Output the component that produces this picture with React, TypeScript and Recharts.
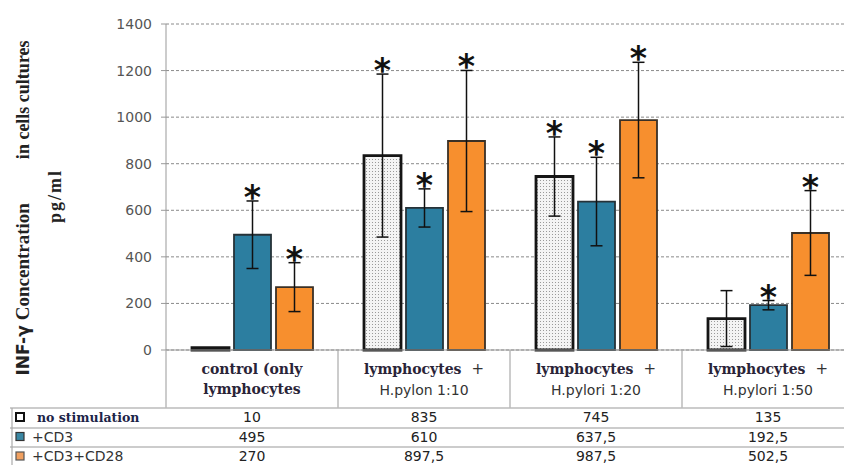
import { ComposedChart, Bar, XAxis, YAxis, CartesianGrid, ErrorBar, LabelList } from 'recharts';

// category labels (two lines each)
const categoryTop = ['control (only', 'lymphocytes', 'lymphocytes', 'lymphocytes'];
const categoryBottom = ['lymphocytes', 'H.pylon 1:10', 'H.pylori 1:20', 'H.pylori 1:50'];
const categoryPlus = [false, true, true, true];

const seriesNames = ['no stimulation', '+CD3', '+CD3+CD28'];

const noStim = [10, 835, 745, 135];
const cd3 = [495, 610, 637.5, 192.5];
const cd28 = [270, 897.5, 987.5, 502.5];

const noStimErr = [0, 350, 170, 120];
const cd3Err = [145, 82, 190, 20];
const cd28Err = [105, 303, 248, 182];

// significance marks
const noStimStar = [false, true, true, false];
const cd3Star = [true, true, true, true];
const cd28Star = [true, true, true, true];

const yTicks = [0, 200, 400, 600, 800, 1000, 1200, 1400];

const data = categoryTop.map((t, i) => ({
  name: `${t} ${categoryBottom[i]}`,
  noStim: noStim[i],
  cd3: cd3[i],
  cd28: cd28[i],
  noStimErr: noStimErr[i],
  cd3Err: cd3Err[i],
  cd28Err: cd28Err[i],
}));

const CD3_COLOR = '#2c7ea0';
const CD28_COLOR = '#f78f2e';
const SERIF = '"DejaVu Serif", serif';
const SANS = '"DejaVu Sans", sans-serif';
const TITLE_SERIF = '"Liberation Serif", serif';

// layout of the plot, shared with the table underneath
const CHART_W = 860;
const PLOT_LEFT = 166;
const PLOT_RIGHT = 854;
const PLOT_TOP = 24;
const PLOT_BOTTOM = 350;
const CAT_W = (PLOT_RIGHT - PLOT_LEFT) / data.length;
const ROWS = [408, 428, 447];

const fmt = (v: number) => String(v).replace('.', ',');

const starLabel = (errs: number[], stars: boolean[]) => (props: any) => {
  const { x, y, width, height, value, index } = props;
  if (!stars[index] || !value) return null;
  const top = Number(y) - errs[index] * (Number(height) / Number(value));
  return (
    <text
      x={Number(x) + Number(width) / 2}
      y={top + 8}
      textAnchor="middle"
      fontSize={33}
      fontWeight="bold"
      fontFamily={SANS}
      fill="#111"
    >
      *
    </text>
  );
};

const CategoryTick = (props: any) => {
  const { x, y, payload } = props;
  const i = data.findIndex((d) => d.name === payload.value);
  if (i < 0) return null;
  const firstSerif = i === 0;
  return (
    <g>
      <text x={x} y={y + 22} textAnchor="middle" fill="#2a2438">
        <tspan fontFamily={SERIF} fontWeight="bold" fontSize={14}>{categoryTop[i]}</tspan>
        {categoryPlus[i] && (
          <tspan fontFamily={SANS} fontSize={15} dx={10} fill="#333">+</tspan>
        )}
      </text>
      {firstSerif ? (
        <text x={x} y={y + 42} textAnchor="middle" fill="#2a2438" fontFamily={SERIF} fontWeight="bold" fontSize={14}>
          {categoryBottom[i]}
        </text>
      ) : (
        <text x={x} y={y + 43} textAnchor="middle" fill="#333" fontFamily={SANS} fontSize={14}>
          {categoryBottom[i]}
        </text>
      )}
    </g>
  );
};

const ValueTick = (props: any) => {
  const { x, y, payload } = props;
  return (
    <text x={x} y={y} dy={5} textAnchor="end" fill="#555" fontFamily={SANS} fontSize={14}>
      {payload.value}
    </text>
  );
};

const legendIcon = [
  { fill: '#fff', stroke: '#111', sw: 2 },
  { fill: '#3a87a3', stroke: '#333', sw: 1.2 },
  { fill: '#f0a060', stroke: '#555', sw: 1.2 },
];
const seriesRows = [noStim, cd3, cd28];

const TableOverlay = () => (
  <svg
    width={844}
    height={465}
    style={{ position: 'absolute', left: 0, top: 0, pointerEvents: 'none' }}
  >
    {/* y axis title */}
    <text transform="translate(29,208) rotate(-90)" textAnchor="middle" fill="#222" fontSize={19} fontWeight="bold">
      <tspan fontFamily={SANS} fontSize={17}>INF-γ</tspan>
      <tspan fontFamily={TITLE_SERIF} dx={5}>Concentration</tspan>
      <tspan fontFamily={TITLE_SERIF} dx={44} fontSize={18}>in cells cultures</tspan>
    </text>
    <text transform="translate(61,196) rotate(-90)" textAnchor="middle" fill="#222" fontSize={18} fontWeight="bold" fontFamily={TITLE_SERIF} letterSpacing={2}>
      pg/ml
    </text>

    {/* category boundaries in label row */}
    {Array.from({ length: data.length + 1 }, (_, k) => (
      <line key={`v${k}`} x1={PLOT_LEFT + k * CAT_W} x2={PLOT_LEFT + k * CAT_W} y1={PLOT_BOTTOM} y2={ROWS[0]} stroke="#aaa" strokeWidth={1.2} />
    ))}
    {/* table rows */}
    {ROWS.map((ry) => (
      <line key={`h${ry}`} x1={10} x2={844} y1={ry} y2={ry} stroke="#bbb" strokeWidth={1.5} />
    ))}
    <line x1={12} x2={12} y1={ROWS[0]} y2={465} stroke="#aaa" strokeWidth={1.2} />

    {seriesNames.map((s, r) => {
      const cy = ROWS[0] + 10 + r * 19.5;
      const ic = legendIcon[r];
      return (
        <g key={s}>
          <rect x={16} y={cy - 5} width={8} height={8} fill={ic.fill} stroke={ic.stroke} strokeWidth={ic.sw} />
          {r === 0 ? (
            <text x={37} y={cy + 4} fontFamily={SERIF} fontWeight="bold" fontSize={12.5} fill="#1c2448">
              {s}
            </text>
          ) : (
            <text x={32} y={cy + 4} fontFamily={SANS} fontSize={14} fill="#333">
              {s}
            </text>
          )}
          {seriesRows[r].map((v, i) => (
            <text key={i} x={PLOT_LEFT + (i + 0.5) * CAT_W} y={cy + 4} textAnchor="middle" fontFamily={SANS} fontSize={14} fill="#222">
              {fmt(v)}
            </text>
          ))}
        </g>
      );
    })}
  </svg>
);

const App = () => {
  return (
    <div style={{ position: 'absolute', left: 0, top: 0, width: 844, height: 465, overflow: 'hidden', background: '#fff' }}>
      <ComposedChart
        width={CHART_W}
        height={465}
        data={data}
        margin={{ top: PLOT_TOP, right: CHART_W - PLOT_RIGHT, bottom: 57, left: 0 }}
        barSize={37}
        barGap={5}
      >
        <defs>
          <pattern id="dots" width={3} height={3} patternUnits="userSpaceOnUse">
            <rect width={3} height={3} fill="#f4f4f4" />
            <rect width={1} height={1} fill="#9a9a9a" />
          </pattern>
        </defs>
        <CartesianGrid vertical={false} stroke="#8a8a8a" strokeDasharray="3 2" />
        <XAxis
          dataKey="name"
          interval={0}
          height={58}
          axisLine={{ stroke: '#999' }}
          tickLine={false}
          tickSize={0}
          tick={<CategoryTick />}
        />
        <YAxis
          width={PLOT_LEFT}
          domain={[0, 1400]}
          ticks={yTicks}
          axisLine={{ stroke: '#999' }}
          tickLine={{ stroke: '#999' }}
          tickSize={5}
          tickMargin={9}
          tick={<ValueTick />}
        />
        <Bar dataKey="noStim" fill="url(#dots)" stroke="#151515" strokeWidth={2.8} isAnimationActive={false}>
          <ErrorBar dataKey="noStimErr" width={6} stroke="#111" strokeWidth={1.5} direction="y" />
          <LabelList dataKey="noStim" content={starLabel(noStimErr, noStimStar)} />
        </Bar>
        <Bar dataKey="cd3" fill={CD3_COLOR} stroke="#263238" strokeWidth={1.8} isAnimationActive={false}>
          <ErrorBar dataKey="cd3Err" width={6} stroke="#111" strokeWidth={1.5} direction="y" />
          <LabelList dataKey="cd3" content={starLabel(cd3Err, cd3Star)} />
        </Bar>
        <Bar dataKey="cd28" fill={CD28_COLOR} stroke="#3a3026" strokeWidth={1.8} isAnimationActive={false}>
          <ErrorBar dataKey="cd28Err" width={6} stroke="#111" strokeWidth={1.5} direction="y" />
          <LabelList dataKey="cd28" content={starLabel(cd28Err, cd28Star)} />
        </Bar>
      </ComposedChart>
      <TableOverlay />
    </div>
  );
};

export default App;
